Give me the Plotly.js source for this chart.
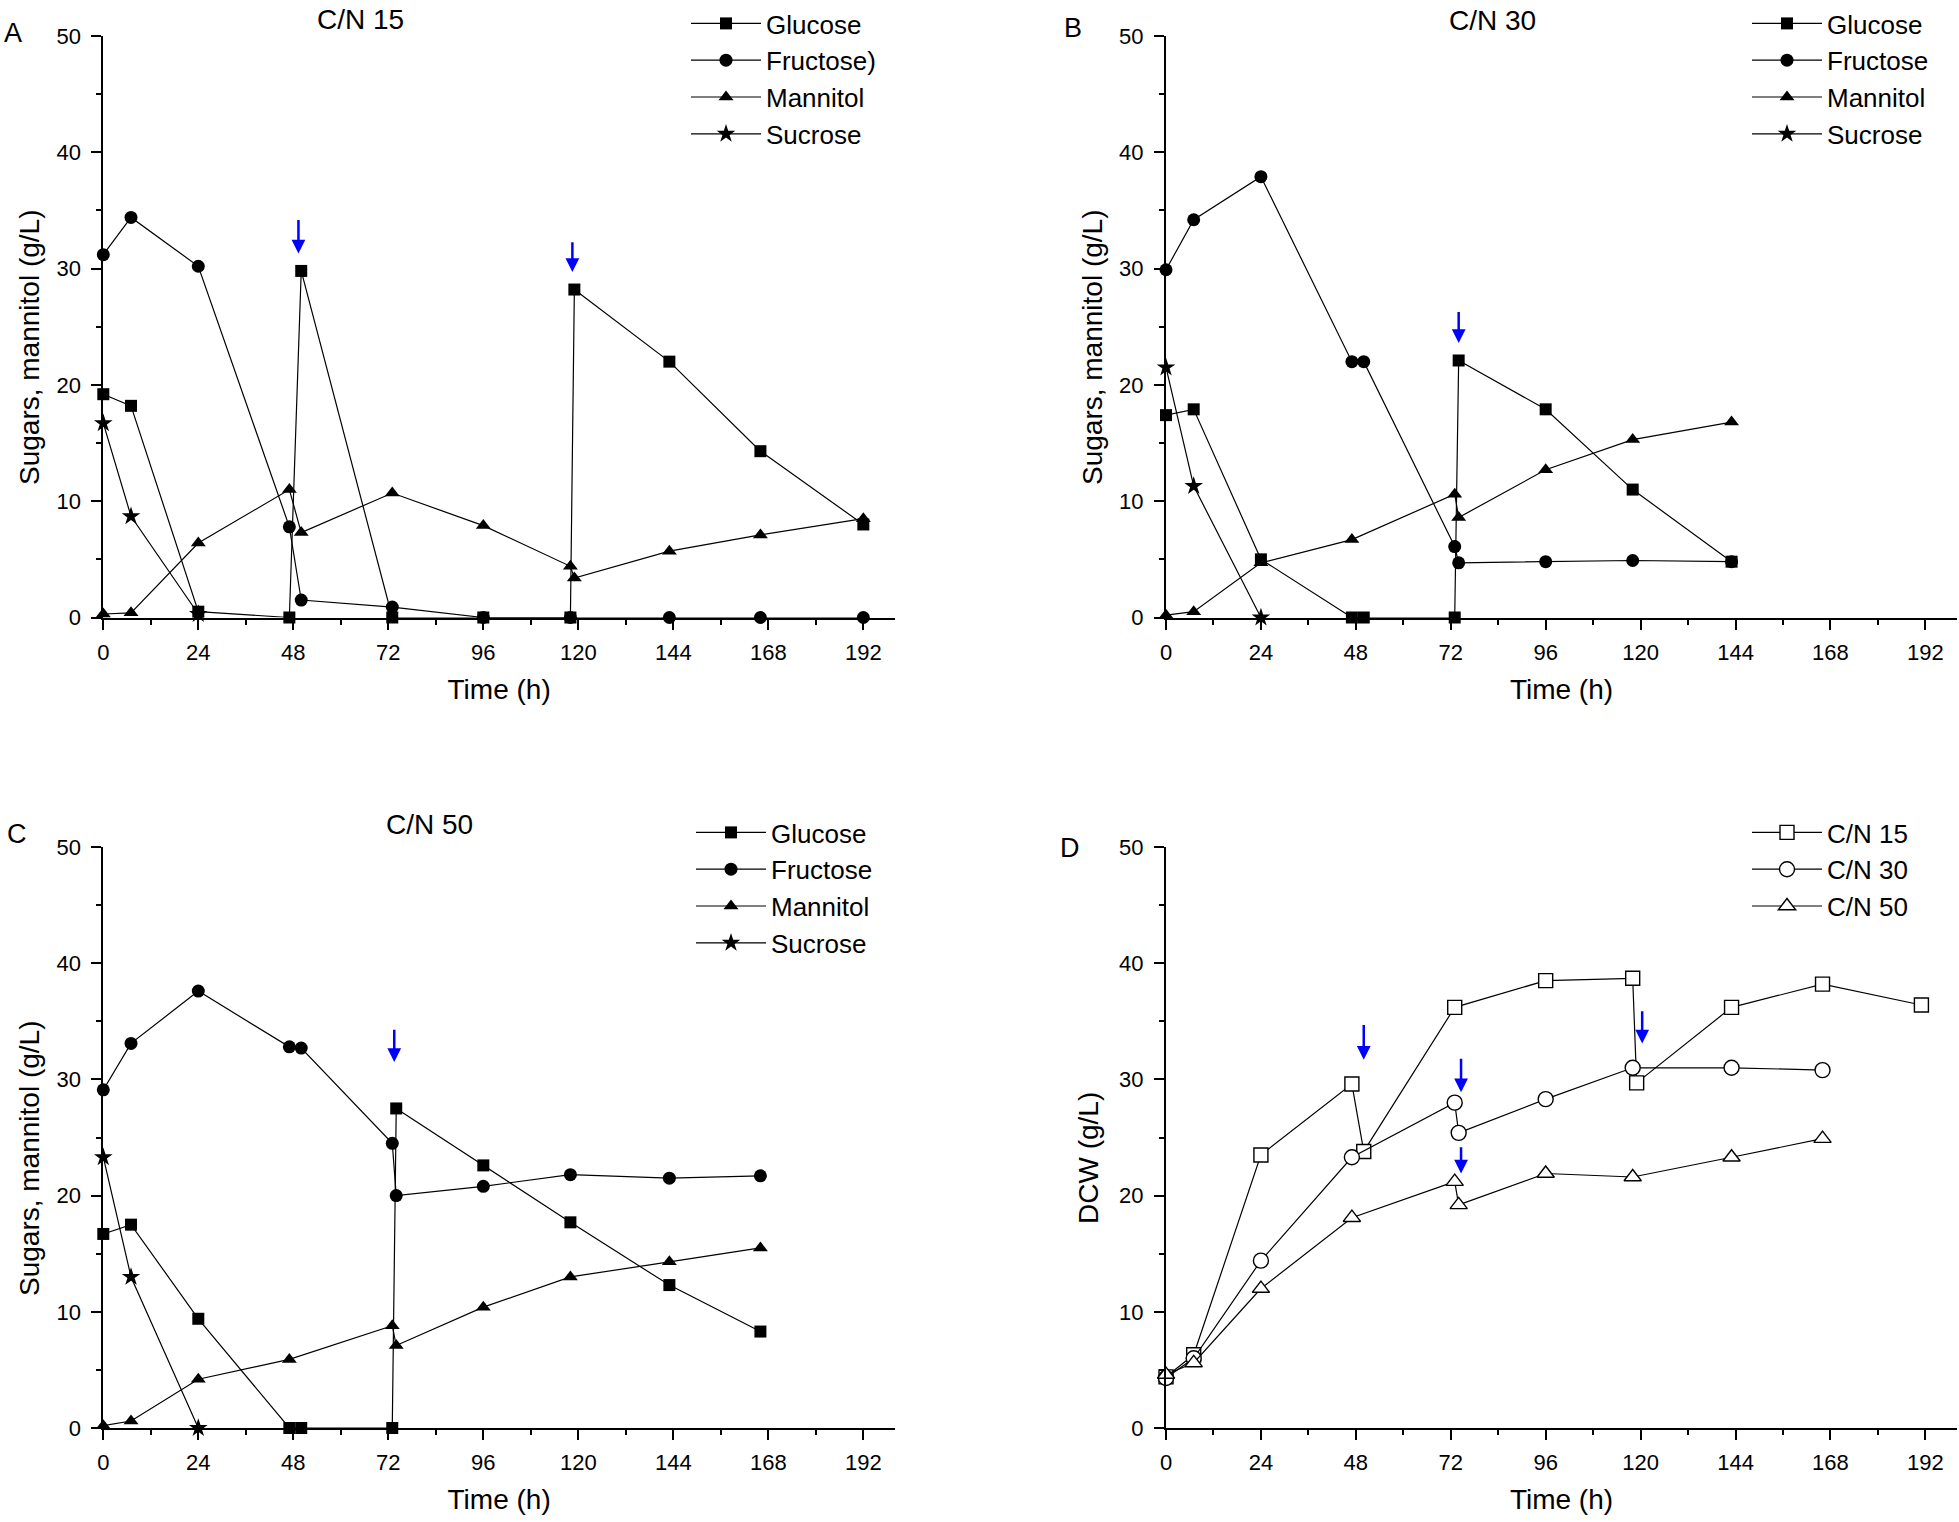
<!DOCTYPE html>
<html>
<head>
<meta charset="utf-8">
<script src="https://cdn.plot.ly/plotly-3.0.1.min.js"></script>
<style>html,body{margin:0;padding:0;background:#fff;}#chart{width:1959px;height:1522px;}</style>
</head>
<body>
<div id="chart"></div>
<script>
// ---------- Data ----------
// Panel A: C/N 15
const tA_glu = [0, 7, 24, 47, 50, 73, 96, 118, 119, 143, 166, 192];
const A_glu  = [19.2, 18.2, 0.5, 0, 29.8, 0, 0, 0, 28.2, 22.0, 14.3, 8.0];
const tA_fru = [0, 7, 24, 47, 50, 73, 96, 118, 143, 166, 192];
const A_fru  = [31.2, 34.4, 30.2, 7.8, 1.5, 0.9, 0, 0, 0, 0, 0];
const tA_man = [0, 7, 24, 47, 50, 73, 96, 118, 119, 143, 166, 192];
const A_man  = [0.3, 0.4, 6.4, 11.0, 7.3, 10.7, 7.9, 4.4, 3.4, 5.7, 7.1, 8.5];
const tA_suc = [0, 7, 24];
const A_suc  = [16.7, 8.7, 0.3];

// Panel B: C/N 30
const tB_glu = [0, 7, 24, 47, 50, 73, 74, 96, 118, 143];
const B_glu  = [17.4, 17.9, 5.0, 0, 0, 0, 22.1, 17.9, 11.0, 4.8];
const tB_fru = [0, 7, 24, 47, 50, 73, 74, 96, 118, 143];
const B_fru  = [29.9, 34.2, 37.9, 22.0, 22.0, 6.1, 4.7, 4.8, 4.9, 4.8];
const tB_man = [0, 7, 24, 47, 73, 74, 96, 118, 143];
const B_man  = [0.2, 0.5, 4.7, 6.7, 10.6, 8.6, 12.7, 15.3, 16.8];
const tB_suc = [0, 7, 24];
const B_suc  = [21.5, 11.3, 0];

// Panel C: C/N 50
const tC_glu = [0, 7, 24, 47, 50, 73, 74, 96, 118, 143, 166];
const C_glu  = [16.7, 17.5, 9.4, 0, 0, 0, 27.5, 22.6, 17.7, 12.3, 8.3];
const tC_fru = [0, 7, 24, 47, 50, 73, 74, 96, 118, 143, 166];
const C_fru  = [29.1, 33.1, 37.6, 32.8, 32.7, 24.5, 20.0, 20.8, 21.8, 21.5, 21.7];
const tC_man = [0, 7, 24, 47, 73, 74, 96, 118, 143, 166];
const C_man  = [0.2, 0.6, 4.2, 5.9, 8.8, 7.1, 10.4, 13.0, 14.3, 15.5];
const tC_suc = [0, 7, 24];
const C_suc  = [23.3, 13.0, 0];

// Panel D: DCW
const tD15 = [0, 7, 24, 47, 50, 73, 96, 118, 119, 143, 166, 191];
const D15  = [4.4, 6.3, 23.5, 29.6, 23.8, 36.2, 38.5, 38.7, 29.7, 36.2, 38.2, 36.4];
const tD30 = [0, 7, 24, 47, 73, 74, 96, 118, 143, 166];
const D30  = [4.3, 6.0, 14.4, 23.3, 28.0, 25.4, 28.3, 31.0, 31.0, 30.8];
const tD50 = [0, 7, 24, 47, 73, 74, 96, 118, 143, 166];
const D50  = [4.6, 5.6, 12.0, 18.1, 21.2, 19.2, 21.9, 21.6, 23.3, 24.9];

// Feeding arrows (x position, arrow tip value, arrow tail value)
const arrA_x = [49.3, 118.5], arrA_tip = [31.3, 29.7], arrA_tail = [34.3, 32.4];
const arrB_x = [74.0],        arrB_tip = [23.6],       arrB_tail = [26.4];
const arrC_x = [73.5],        arrC_tip = [31.5],       arrC_tail = [34.4];
const arrD_x = [50.0, 74.6, 74.6, 120.4], arrD_tip = [31.7, 28.9, 21.9, 33.1], arrD_tail = [34.8, 31.9, 24.3, 36.0];

// Labels
const sugarNamesA = ['Glucose', 'Fructose)', 'Mannitol', 'Sucrose'];
const sugarNames  = ['Glucose', 'Fructose', 'Mannitol', 'Sucrose'];
const dcwNames    = ['C/N 15', 'C/N 30', 'C/N 50'];
const panelTitles = ['C/N 15', 'C/N 30', 'C/N 50'];
const panelLetters = ['A', 'B', 'C', 'D'];
const xTitle = 'Time (h)';
const yTitleSugar = 'Sugars, mannitol (g/L)';
const yTitleDCW = 'DCW (g/L)';
const xTickVals = [0, 24, 48, 72, 96, 120, 144, 168, 192];
const yTickVals = [0, 10, 20, 30, 40, 50];

// ---------- Styling ----------
const FONT = 'Liberation Sans, Arial, sans-serif';
const W = 1959, H = 1522;
const px = v => v / W;
const py = v => 1 - v / H;

const symbols = ['square', 'circle', 'triangle-up', 'star'];
const sizes   = [12, 13, 13, 14];

function sugarTraces(ts, vs, names, xa, ya, leg) {
  return ts.map((t, i) => ({
    type: 'scatter', mode: 'lines+markers',
    x: t, y: vs[i], name: names[i],
    xaxis: xa, yaxis: ya, legend: leg, legendgroup: leg + i,
    cliponaxis: false,
    line: {color: 'black', width: 1.2},
    marker: {symbol: symbols[i], size: sizes[i], color: 'black'}
  }));
}

const traces = [].concat(
  sugarTraces([tA_glu, tA_fru, tA_man, tA_suc], [A_glu, A_fru, A_man, A_suc], sugarNamesA, 'x', 'y', 'legend'),
  sugarTraces([tB_glu, tB_fru, tB_man, tB_suc], [B_glu, B_fru, B_man, B_suc], sugarNames, 'x2', 'y2', 'legend2'),
  sugarTraces([tC_glu, tC_fru, tC_man, tC_suc], [C_glu, C_fru, C_man, C_suc], sugarNames, 'x3', 'y3', 'legend3')
);
const openSymbols = ['square', 'circle', 'triangle-up'];
const openSizes = [14, 15, 15];
[[tD15, D15], [tD30, D30], [tD50, D50]].forEach((d, i) => {
  traces.push({
    type: 'scatter', mode: 'lines+markers',
    x: d[0], y: d[1], name: dcwNames[i],
    xaxis: 'x4', yaxis: 'y4', legend: 'legend4', legendgroup: 'd' + i,
    cliponaxis: false,
    line: {color: 'black', width: 1.2},
    marker: {symbol: openSymbols[i], size: openSizes[i], color: 'white', line: {color: 'black', width: 1.4}}
  });
});

function xAxis(domain, anchor) {
  return {
    domain: domain, anchor: anchor, range: [0, 200], autorange: false,
    showline: true, linewidth: 2, linecolor: 'black',
    ticks: 'outside', ticklen: 10, tickwidth: 2, tickcolor: 'black',
    tickvals: xTickVals, ticklabelstandoff: 4,
    minor: {dtick: 12, tick0: 0, ticks: 'outside', ticklen: 5, tickwidth: 2, tickcolor: 'black', showgrid: false},
    showgrid: false, zeroline: false,
    tickfont: {family: FONT, size: 22, color: 'black'},
    title: {text: xTitle, font: {family: FONT, size: 28, color: 'black'}, standoff: 15}
  };
}
function yAxis(domain, anchor) {
  return {
    domain: domain, anchor: anchor, range: [0, 50], autorange: false,
    showline: true, linewidth: 2, linecolor: 'black',
    ticks: 'outside', ticklen: 10, tickwidth: 2, tickcolor: 'black',
    tickvals: yTickVals, ticklabelstandoff: 6,
    minor: {dtick: 5, tick0: 0, ticks: 'outside', ticklen: 5, tickwidth: 2, tickcolor: 'black', showgrid: false},
    showgrid: false, zeroline: false,
    tickfont: {family: FONT, size: 22, color: 'black'}
  };
}

const xL = [px(103.3), px(895)], xR = [px(1166), px(1957)];
const yT = [py(617.5), py(36)], yB = [py(1428), py(847)];

function legendCfg(x, y) {
  return {x: x, y: y, xanchor: 'left', yanchor: 'top', bgcolor: 'rgba(0,0,0,0)', borderwidth: 0,
          font: {family: FONT, size: 26, color: 'black'}, itemwidth: 70, tracegroupgap: 0,
          itemclick: false, itemdoubleclick: false};
}

const annotations = [];
function textAnn(text, x, y, size, angle) {
  annotations.push({text: text, x: px(x), y: py(y), xref: 'paper', yref: 'paper',
    xanchor: 'center', yanchor: 'middle', showarrow: false, textangle: angle || 0,
    font: {family: FONT, size: size, color: 'black'}});
}
textAnn(panelLetters[0], 13, 33, 27);
textAnn(panelLetters[1], 1073, 28, 27);
textAnn(panelLetters[2], 17, 834, 27);
textAnn(panelLetters[3], 1070, 848, 27);
textAnn(panelTitles[0], 360, 20, 28);
textAnn(panelTitles[1], 1492, 21, 28);
textAnn(panelTitles[2], 429, 824, 28);
// y-axis titles
textAnn(yTitleSugar, 29, 348, 28, -90);
textAnn(yTitleSugar, 1092, 348, 28, -90);
textAnn(yTitleSugar, 29, 1159, 28, -90);
textAnn(yTitleDCW, 1088, 1158, 28, -90);

function arrows(xs, tips, tails, xa, ya) {
  xs.forEach((xv, i) => {
    annotations.push({x: xv, y: tips[i], ax: xv, ay: tails[i], xref: xa, yref: ya, axref: xa, ayref: ya,
      text: '', showarrow: true, arrowhead: 2, arrowsize: 1.1, arrowwidth: 2.5,
      arrowcolor: '#0000ff', standoff: 0, startstandoff: 0});
  });
}
arrows(arrA_x, arrA_tip, arrA_tail, 'x', 'y');
arrows(arrB_x, arrB_tip, arrB_tail, 'x2', 'y2');
arrows(arrC_x, arrC_tip, arrC_tail, 'x3', 'y3');
arrows(arrD_x, arrD_tip, arrD_tail, 'x4', 'y4');

const layout = {
  width: W, height: H,
  margin: {l: 0, r: 0, t: 0, b: 0, pad: 0, autoexpand: false},
  paper_bgcolor: 'white', plot_bgcolor: 'white',
  font: {family: FONT, color: 'black'},
  showlegend: true,
  xaxis: xAxis(xL, 'y'),  yaxis: yAxis(yT, 'x'),
  xaxis2: xAxis(xR, 'y2'), yaxis2: yAxis(yT, 'x2'),
  xaxis3: xAxis(xL, 'y3'), yaxis3: yAxis(yB, 'x3'),
  xaxis4: xAxis(xR, 'y4'), yaxis4: yAxis(yB, 'x4'),
  legend:  legendCfg(px(686), 1),
  legend2: legendCfg(px(1747), 1),
  legend3: legendCfg(px(691), py(809)),
  legend4: legendCfg(px(1747), py(809)),
  annotations: annotations
};

Plotly.newPlot('chart', traces, layout, {staticPlot: true, displayModeBar: false});
</script>
</body>
</html>
